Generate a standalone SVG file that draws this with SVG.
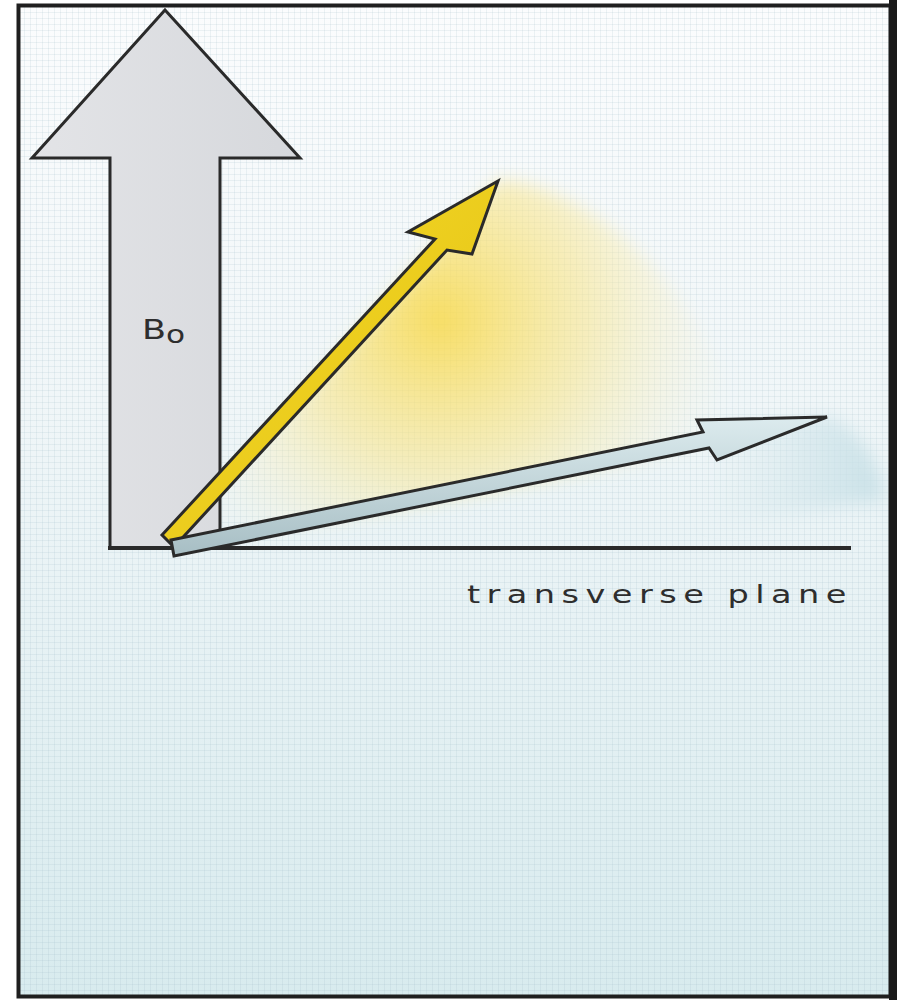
<svg xmlns="http://www.w3.org/2000/svg" width="897" height="1000" viewBox="0 0 897 1000">
<style>
.outline{stroke:#2a2a2a;stroke-width:3;stroke-linejoin:miter}
.lbl{font-family:"DejaVu Sans","Liberation Sans",sans-serif;fill:#2e2e2e}
</style>
<defs>
<linearGradient id="bg" x1="0" y1="0" x2="0" y2="1">
<stop offset="0" stop-color="#fbfcfd"/>
<stop offset="0.4" stop-color="#f0f6f8"/>
<stop offset="1" stop-color="#d8ebee"/>
</linearGradient>
<pattern id="grid" width="6" height="6" patternUnits="userSpaceOnUse">
<path d="M0,0.5H6M0.5,0V6" stroke="#9fbcc6" stroke-width="0.7" stroke-opacity="0.25" fill="none"/>
</pattern>
<radialGradient id="yglow" cx="440" cy="320" r="300" gradientUnits="userSpaceOnUse">
<stop offset="0" stop-color="#f8d949" stop-opacity="0.85"/>
<stop offset="0.5" stop-color="#f9e68e" stop-opacity="0.55"/>
<stop offset="1" stop-color="#fbf3cf" stop-opacity="0"/>
</radialGradient>
<linearGradient id="bglow" x1="880" y1="470" x2="700" y2="470" gradientUnits="userSpaceOnUse">
<stop offset="0" stop-color="#c6dfe6" stop-opacity="0.9"/>
<stop offset="1" stop-color="#d6e8ec" stop-opacity="0"/>
</linearGradient>
<filter id="blur" x="-20%" y="-20%" width="140%" height="140%"><feGaussianBlur stdDeviation="9"/></filter>
<linearGradient id="grey" x1="0" y1="0" x2="1" y2="0">
<stop offset="0" stop-color="#e3e4e7"/>
<stop offset="1" stop-color="#d6d8dc"/>
</linearGradient>
<linearGradient id="yel" x1="0" y1="0" x2="1" y2="1">
<stop offset="0" stop-color="#f5dc2c"/>
<stop offset="1" stop-color="#e3bf10"/>
</linearGradient>
<linearGradient id="blu" x1="0" y1="0" x2="0" y2="1">
<stop offset="0" stop-color="#dcebee"/>
<stop offset="1" stop-color="#a7bec4"/>
</linearGradient>
</defs>

<g id="background">
<rect x="18" y="5" width="873" height="992" fill="url(#bg)"/>
<rect x="18" y="5" width="873" height="992" fill="url(#grid)"/>
</g>

<g id="glow">
<path d="M170,545 L498,180 C560,182 640,235 690,315 C720,365 745,410 760,440 L190,548 Z" fill="url(#yglow)" filter="url(#blur)"/>
<path d="M700,428 L828,416 C858,428 880,460 884,500 L700,525 Z" fill="url(#bglow)" filter="url(#blur)"/>
</g>

<g id="b0-arrow">
<polygon class="outline" points="165,10 300,158 220,158 220,548 110,548 110,158 32,158" fill="url(#grey)"/>
<text class="lbl" transform="translate(142,339) scale(1.3,1)" font-size="27">B<tspan font-size="24" dy="4">o</tspan></text>
</g>

<g id="connectors">
<line x1="108" y1="548" x2="851" y2="548" stroke="#2a2a2a" stroke-width="4"/>
</g>

<g id="yellow-arrow">
<polygon class="outline" points="162,535 435,239 408,232 498,181 472,254 447,250 174,547" fill="url(#yel)"/>
</g>

<g id="blue-arrow">
<polygon class="outline" points="171,540 703,432 697,420 827,417 717,460 709,448 174,556" fill="url(#blu)" stroke-width="2.5"/>
</g>

<g id="plane-label">
<text class="lbl" transform="translate(467,603) scale(1.4,1)" font-size="24" textLength="271" lengthAdjust="spacing">transverse plane</text>
</g>

<g id="frame">
<rect x="18.5" y="5.5" width="872" height="991" fill="none" stroke="#1f1f1f" stroke-width="4"/>
<rect x="889" y="0" width="8" height="1000" fill="#1a1a1a"/>
</g>
</svg>
